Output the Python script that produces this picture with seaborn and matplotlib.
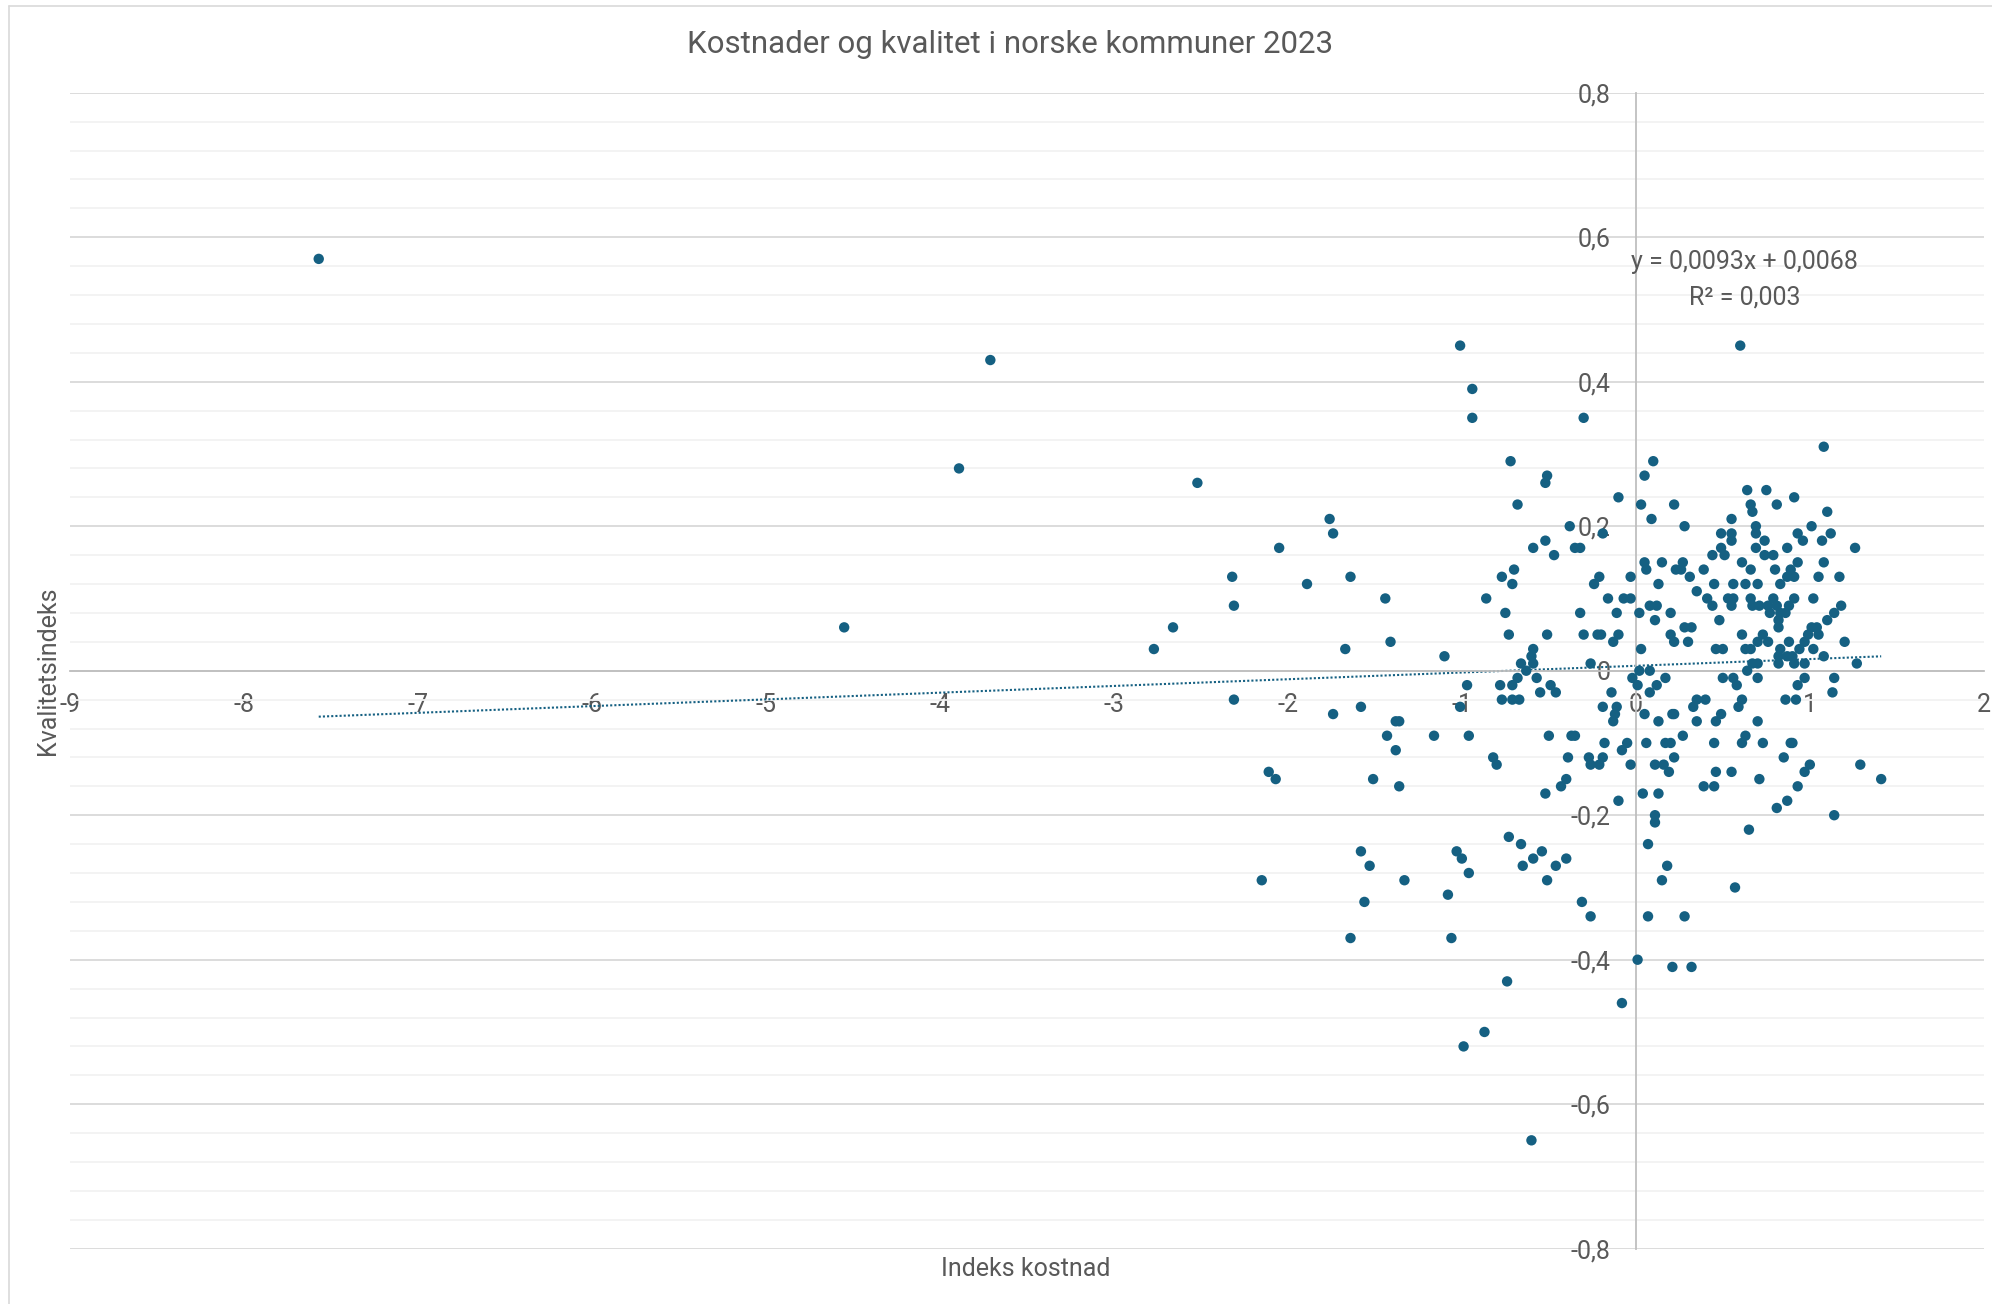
import numpy as np
import pandas as pd
import matplotlib
matplotlib.use("Agg")
import matplotlib.pyplot as plt
from matplotlib.ticker import MultipleLocator, FuncFormatter
from matplotlib.lines import Line2D
import seaborn as sns

# Indeks kostnad (x) og kvalitetsindeks (y) per kommune, lest av figuren
kostnad = [
    # uteliggere til venstre
    -7.57, -3.71, -3.89, -4.55, -2.52, -2.77, -2.66,
    # x < -0.44, y > 0.07
    -1.01, -0.94, -0.94, -0.72, -0.51, -0.52, -0.68, -1.76, -1.74, -2.05, -0.59, -0.52,
    -0.47, -2.32, -1.89, -1.64, -0.70, -0.77, -0.71, -2.31, -1.44, -0.86, -0.75,
    # x < -0.44, y < 0.07
    -0.73, -0.51, -1.67, -1.41, -1.10, -0.59, -0.60, -0.66, -0.59, -0.63,
    -0.68, -0.57, -0.71, -0.78, -0.97, -0.49, -0.55, -0.46, -0.77, -0.71,
    -0.67, -2.31, -1.58, -1.01, -1.74, -1.38, -1.36, -1.43, -1.16, -0.96,
    -0.50, -1.38, -0.82, -0.80, -2.11, -2.07, -1.51, -1.36, -0.52, -0.43,
    -0.73, -0.66, -1.58, -1.53, -1.03, -1.00, -0.54, -0.59, -0.65, -0.46,
    -0.96, -2.15, -1.33, -0.51, -1.08, -1.56,
    -1.64, -1.06, -0.74, -0.87, -0.99, -0.60,
    # x > -0.44, y < -0.3
    -0.31, -0.26, 0.07, 0.28, 0.01, 0.21, 0.32, -0.08,
    # x > -0.44, -0.3 <= y <= 0.07
    0.11, 0.28, 0.32, 0.48, 0.82, 0.82, 1.01, 1.04, 1.10,
    -0.30, -0.22, -0.20, -0.10, -0.13, 0.20, 0.22, 0.30, 0.61, 0.73, 0.70, 0.76, 0.88, 0.99, 0.97, 1.05, 1.20,
    0.03, 0.46, 0.50, 0.63, 0.66, 0.83, 0.94, 1.02,
    0.82, 0.87, 0.90, 1.08,
    -0.26, 0.67, 0.70, 0.82, 0.91, 0.97, 1.27,
    0.02, 0.08, 0.64,
    -0.02, 0.17, 0.50, 0.56, 0.70, 0.97, 1.14,
    0.01, 0.12, 0.58, 0.93,
    -0.14, 0.08, 1.13,
    0.35, 0.40, 0.61, 0.86, 0.92,
    -0.19, -0.11, 0.33, 0.59,
    -0.12, 0.05, 0.21, 0.22, 0.49,
    -0.13, 0.13, 0.35, 0.46, 0.70,
    -0.37, -0.35, 0.27, 0.63,
    -0.18, -0.05, 0.06, 0.17, 0.20, 0.45, 0.61, 0.73, 0.89, 0.90,
    -0.08,
    -0.39, -0.27, -0.19, 0.22, 0.85,
    -0.26, -0.21, -0.03, 0.11, 0.16, 1.00, 1.29,
    0.19, 0.46, 0.55, 0.97,
    -0.40, 0.71, 1.41,
    0.39, 0.45, 0.93,
    0.04, 0.13,
    -0.10, 0.87,
    0.81,
    0.11, 0.11, 1.14,
    0.65, 0.07, -0.40, 0.18, 0.15, 0.57,
    # x > -0.44, y > 0.07
    0.60, -0.30, 1.08, 0.10, 0.05,
    0.64, 0.75,
    -0.10, 0.91,
    0.03, 0.22, 0.66, 0.81,
    0.67, 1.10,
    0.09, 0.55,
    -0.38, 0.28, 0.69, 1.01,
    -0.19, 0.49, 0.55, 0.69, 0.93, 1.12,
    0.55, 0.74, 0.96, 1.07,
    -0.35, -0.32, 0.49, 0.69, 0.87, 1.26,
    0.44, 0.51, 0.74, 0.79,
    0.05, 0.15, 0.27, 0.61, 0.93, 1.08,
    0.06, 0.23, 0.26, 0.39, 0.66, 0.80, 0.89,
    -0.21, -0.03, 0.31, 0.87, 0.91, 1.05, 1.17,
    -0.24, 0.13, 0.45, 0.56, 0.63, 0.70, 0.83,
    0.35,
    -0.16, -0.07, -0.03, 0.41, 0.53, 0.56, 0.66, 0.79, 0.91, 1.02,
    0.08, 0.12, 0.44, 0.55, 0.67, 0.71, 0.76, 0.81, 0.88, 1.18,
    -0.32, -0.11, 0.02, 0.20, 0.77, 0.83, 0.86, 1.14,
]

kvalitet = [
    0.57, 0.43, 0.28, 0.06, 0.26, 0.03, 0.06,
    0.45, 0.39, 0.35, 0.29, 0.27, 0.26, 0.23, 0.21, 0.19, 0.17, 0.17, 0.18,
    0.16, 0.13, 0.12, 0.13, 0.14, 0.13, 0.12, 0.09, 0.10, 0.10, 0.08,
    0.05, 0.05, 0.03, 0.04, 0.02, 0.03, 0.02, 0.01, 0.01, 0.00,
    -0.01, -0.01, -0.02, -0.02, -0.02, -0.02, -0.03, -0.03, -0.04, -0.04,
    -0.04, -0.04, -0.05, -0.05, -0.06, -0.07, -0.07, -0.09, -0.09, -0.09,
    -0.09, -0.11, -0.12, -0.13, -0.14, -0.15, -0.15, -0.16, -0.17, -0.16,
    -0.23, -0.24, -0.25, -0.27, -0.25, -0.26, -0.25, -0.26, -0.27, -0.27,
    -0.28, -0.29, -0.29, -0.29, -0.31, -0.32,
    -0.37, -0.37, -0.43, -0.50, -0.52, -0.65,
    -0.32, -0.34, -0.34, -0.34, -0.40, -0.41, -0.41, -0.46,
    0.07, 0.06, 0.06, 0.07, 0.07, 0.06, 0.06, 0.06, 0.07,
    0.05, 0.05, 0.05, 0.05, 0.04, 0.05, 0.04, 0.04, 0.05, 0.05, 0.04, 0.04, 0.04, 0.05, 0.04, 0.05, 0.04,
    0.03, 0.03, 0.03, 0.03, 0.03, 0.03, 0.03, 0.03,
    0.02, 0.02, 0.02, 0.02,
    0.01, 0.01, 0.01, 0.01, 0.01, 0.01, 0.01,
    0.00, 0.00, 0.00,
    -0.01, -0.01, -0.01, -0.01, -0.01, -0.01, -0.01,
    -0.02, -0.02, -0.02, -0.02,
    -0.03, -0.03, -0.03,
    -0.04, -0.04, -0.04, -0.04, -0.04,
    -0.05, -0.05, -0.05, -0.05,
    -0.06, -0.06, -0.06, -0.06, -0.06,
    -0.07, -0.07, -0.07, -0.07, -0.07,
    -0.09, -0.09, -0.09, -0.09,
    -0.10, -0.10, -0.10, -0.10, -0.10, -0.10, -0.10, -0.10, -0.10, -0.10,
    -0.11,
    -0.12, -0.12, -0.12, -0.12, -0.12,
    -0.13, -0.13, -0.13, -0.13, -0.13, -0.13, -0.13,
    -0.14, -0.14, -0.14, -0.14,
    -0.15, -0.15, -0.15,
    -0.16, -0.16, -0.16,
    -0.17, -0.17,
    -0.18, -0.18,
    -0.19,
    -0.20, -0.21, -0.20,
    -0.22, -0.24, -0.26, -0.27, -0.29, -0.30,
    0.45, 0.35, 0.31, 0.29, 0.27,
    0.25, 0.25,
    0.24, 0.24,
    0.23, 0.23, 0.23, 0.23,
    0.22, 0.22,
    0.21, 0.21,
    0.20, 0.20, 0.20, 0.20,
    0.19, 0.19, 0.19, 0.19, 0.19, 0.19,
    0.18, 0.18, 0.18, 0.18,
    0.17, 0.17, 0.17, 0.17, 0.17, 0.17,
    0.16, 0.16, 0.16, 0.16,
    0.15, 0.15, 0.15, 0.15, 0.15, 0.15,
    0.14, 0.14, 0.14, 0.14, 0.14, 0.14, 0.14,
    0.13, 0.13, 0.13, 0.13, 0.13, 0.13, 0.13,
    0.12, 0.12, 0.12, 0.12, 0.12, 0.12, 0.12,
    0.11,
    0.10, 0.10, 0.10, 0.10, 0.10, 0.10, 0.10, 0.10, 0.10, 0.10,
    0.09, 0.09, 0.09, 0.09, 0.09, 0.09, 0.09, 0.09, 0.09, 0.09,
    0.08, 0.08, 0.08, 0.08, 0.08, 0.08, 0.08, 0.08,
]

# Lineær trendlinje slik den er oppgitt i figuren
trend_stigning = 0.0093
trend_konstant = 0.0068
trend_r2 = 0.003

assert len(kostnad) == len(kvalitet)
df = pd.DataFrame({"Indeks kostnad": kostnad, "Kvalitetsindeks": kvalitet})

farge = "#156082"
tekstfarge = "#595959"

sns.set_style("white")
plt.rcParams["font.family"] = ["Roboto", "DejaVu Sans"]
plt.rcParams["axes.unicode_minus"] = False

fig = plt.figure(figsize=(19.92, 13.04), dpi=100)
ax = fig.add_axes([0.0351, 0.0424, 0.9608, 0.8865])

sns.scatterplot(data=df, x="Indeks kostnad", y="Kvalitetsindeks", ax=ax,
                color=farge, s=56, edgecolor="none", zorder=3)

xs = np.array([df["Indeks kostnad"].min(), df["Indeks kostnad"].max()])
ax.plot(xs, trend_stigning * xs + trend_konstant, color=farge,
        lw=1.5, ls=(0, (1, 1)), zorder=2)

ax.set_xlim(-9, 2)
ax.set_ylim(-0.8, 0.8)
ax.xaxis.set_major_locator(MultipleLocator(1))
ax.yaxis.set_major_locator(MultipleLocator(0.2))
ax.yaxis.set_minor_locator(MultipleLocator(0.04))

def komma(v, pos):
    if abs(v) < 1e-9:
        return "0"
    return f"{v:.1f}".replace(".", ",")

ax.yaxis.set_major_formatter(FuncFormatter(komma))
ax.xaxis.set_major_formatter(FuncFormatter(lambda v, p: f"{v:.0f}"))

ax.grid(which="major", axis="y", color="#d9d9d9", lw=1.3)
ax.grid(which="minor", axis="y", color="#f2f2f2", lw=1.3)
ax.grid(which="major", axis="x", visible=False)
ax.set_axisbelow(True)

for side in ["top", "right"]:
    ax.spines[side].set_visible(False)
ax.spines["left"].set_position(("data", 0))
ax.spines["bottom"].set_position(("data", 0))
for side in ["left", "bottom"]:
    ax.spines[side].set_color("#bfbfbf")
    ax.spines[side].set_linewidth(1.3)

ax.tick_params(axis="x", which="major", direction="out", length=5, width=1.2,
               color="#bfbfbf", labelsize=18, labelcolor=tekstfarge, pad=11)
ax.tick_params(axis="y", which="major", direction="out", length=6.5, width=1.2,
               color="#bfbfbf", labelsize=18, labelcolor=tekstfarge, pad=12)
ax.tick_params(axis="y", which="minor", length=0)

ax.set_xlabel("")
ax.set_ylabel("")

ax.text(0.626, 0.566,
        f"y = {trend_stigning:.4f}x + {trend_konstant:.4f}".replace(".", ","),
        ha="center", va="center", fontsize=18, color=tekstfarge)
ax.text(0.626, 0.517, f"R² = {trend_r2:.3f}".replace(".", ","),
        ha="center", va="center", fontsize=18, color=tekstfarge)

fig.text(0.507, 0.9655, "Kostnader og kvalitet i norske kommuner 2023",
         ha="center", va="center", fontsize=22.5, color=tekstfarge)
fig.text(0.5151, 0.0268, "Indeks kostnad", ha="center", va="center",
         fontsize=18, color=tekstfarge)
fig.text(0.0241, 0.4854, "Kvalitetsindeks", ha="center", va="center",
         rotation=90, fontsize=18, color=tekstfarge)

# ramme rundt diagramområdet
fig.add_artist(Line2D([0.0045, 0.0045], [0, 0.9954], color="#d9d9d9", lw=1.2))
fig.add_artist(Line2D([0.0045, 1], [0.9954, 0.9954], color="#d9d9d9", lw=1.2))

fig.savefig("out.png", dpi=100)
